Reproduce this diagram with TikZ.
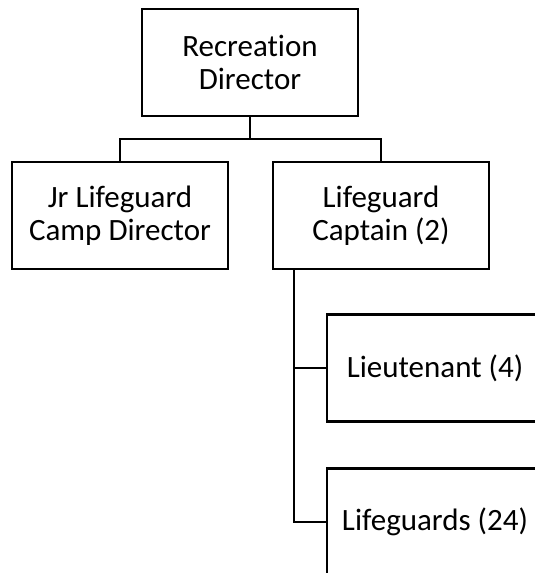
\documentclass[tikz,border=0pt]{standalone}
\usepackage{fontspec}
\setmainfont{Carlito}[Ligatures={NoCommon}]
\begin{document}
\begin{tikzpicture}[x=1pt,y=-1pt,
  orgbox/.style={draw=black, line width=2.6pt, fill=white, inner sep=0pt,
    minimum width=216pt, minimum height=107pt, align=center,
    font=\fontsize{31}{33}\selectfont},
  link/.style={draw=black, line width=2.6pt, line join=miter}]
  \useasboundingbox (0,0) rectangle (535,573);
  \clip (0,0) rectangle (535,573);

  % positions of the boxes
  \node[orgbox] (top) at (250,62.5) {Recreation\\Director};
  \node[orgbox] (jr)  at (120,215.5) {Jr Lifeguard\\Camp Director};
  \node[orgbox] (cap) at (381,215.5) {Lifeguard\\Captain (2)};
  \node[orgbox] (lt)  at (435,368) {Lieutenant (4)};
  \node[orgbox] (lg)  at (435,522) {Lifeguards (24)};

  % director to the two second-level boxes
  \coordinate (bus) at (250,139);
  \draw[link] (top.south) -- (bus);
  \draw[link] (jr.north) |- (bus) -| (cap.north);

  % captain's spine down to the lieutenants and lifeguards
  \coordinate (spine) at ([xshift=-87pt]cap.south);
  \draw[link] (spine) |- (lt.west);
  \draw[link] (spine) |- (lg.west);
\end{tikzpicture}
\end{document}
